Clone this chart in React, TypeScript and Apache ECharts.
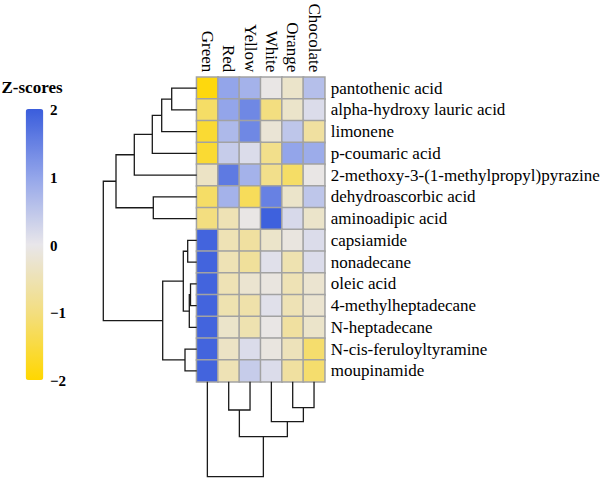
import React, { useEffect, useRef } from "react";
import * as echarts from "echarts";

const columns = ["Green", "Red", "Yellow", "White", "Orange", "Chocolate"];
const rows = [
  "pantothenic acid",
  "alpha-hydroxy lauric acid",
  "limonene",
  "p-coumaric acid",
  "2-methoxy-3-(1-methylpropyl)pyrazine",
  "dehydroascorbic acid",
  "aminoadipic acid",
  "capsiamide",
  "nonadecane",
  "oleic acid",
  "4-methylheptadecane",
  "N-heptadecane",
  "N-cis-feruloyltyramine",
  "moupinamide",
];
// z-scores, one row per compound, columns in the order above
const zScores = [
  [-1.9, 1.0, 0.8, -0.05, -0.3, 0.6],
  [-1.2, 1.0, 1.4, -1.0, -0.3, 0.15],
  [-1.6, 0.7, 1.4, -0.2, 0.5, -0.7],
  [-1.6, 0.4, 0.15, -0.9, 1.0, 0.9],
  [-0.35, 1.6, 0.8, -0.9, -1.2, -0.05],
  [-1.2, 0.8, -1.3, 1.5, -0.3, 0.5],
  [-1.0, -0.5, -0.05, 1.95, 0.2, -0.3],
  [1.9, -0.5, -0.7, -0.3, -0.1, 0.15],
  [1.9, -0.5, -0.75, 0.1, -0.55, 0.15],
  [1.9, -0.5, -0.25, -0.1, -0.5, -0.25],
  [1.9, -0.55, -0.6, 0.1, -0.5, -0.25],
  [1.9, -0.3, -0.55, -0.05, -0.7, -0.3],
  [1.9, -0.35, 0.15, -0.1, -0.45, -1.15],
  [1.9, -0.5, 0.4, 0.15, -0.7, -1.15],
];
const legendTicks = [2, 1, 0, -1, -2];
// dendrograms: [mergeHeight, left, right]; numbers are leaf indices
const rowTree: any = [
  9.34,
  [8.07, [6.24, [4.44, [3.5, [2.5, 0, 1], 2], 3], 4], [4.34, 5, 6]],
  [3.4, [1.34, [0.9, 7, 8], [0.74, [0.62, 9, 10], 11]], [1.17, 12, 13]],
];
const colTree: any = [9.5, 0, [5.5, [2.83, 1, 2], [4.0, 3, [2.6, 4, 5]]]];

function buildLinks(tree: any) {
  const segs: { pos: number; h: number }[][] = [];
  const walk = (node: any): { pos: number; h: number } => {
    if (typeof node === "number") return { pos: node, h: 0 };
    const l = walk(node[1]);
    const r = walk(node[2]);
    const h = node[0];
    segs.push([l, { pos: l.pos, h }, { pos: r.pos, h }, r]);
    return { pos: (l.pos + r.pos) / 2, h };
  };
  walk(tree);
  return segs;
}

export default function App() {
  const ref = useRef<HTMLDivElement>(null);
  useEffect(() => {
    if (!ref.current) return;
    const chart = echarts.init(ref.current, null, { renderer: "svg" });
    const font = "Liberation Serif";
    const heatData: number[][] = [];
    zScores.forEach((r, ri) => r.forEach((v, ci) => heatData.push([ci, ri, v])));
    const rowLinks = buildLinks(rowTree).map((s) => ({
      coords: s.map((p) => [p.h, p.pos]),
    }));
    const colLinks = buildLinks(colTree).map((s) => ({
      coords: s.map((p) => [p.pos, p.h]),
    }));
    const barTop = 109;
    const barH = 271;
    const gridL = 196.7;
    const gridT = 77.3;
    const gridW = 128;
    const gridH = 304.4;
    const lineStyle = { color: "#1a1a1a", width: 1.3, opacity: 1 };
    chart.setOption({
      animation: false,
      grid: [
        { left: gridL, top: gridT, width: gridW, height: gridH },
        { left: 103.3, top: gridT, width: gridL - 103.3, height: gridH },
        { left: gridL, top: gridT + gridH, width: gridW, height: 95 },
      ],
      xAxis: [
        {
          type: "category",
          gridIndex: 0,
          position: "top",
          data: columns,
          axisLine: { show: false },
          axisTick: { show: false },
          axisLabel: {
            interval: 0,
            rotate: 90,
            margin: 5,
            fontSize: 17,
            fontFamily: font,
            color: "#000",
          },
        },
        { type: "value", gridIndex: 1, min: 0, max: 9.34, inverse: true, show: false },
        { type: "value", gridIndex: 2, min: -0.5, max: 5.5, show: false },
      ],
      yAxis: [
        {
          type: "category",
          gridIndex: 0,
          position: "right",
          inverse: true,
          data: rows,
          axisLine: { show: false },
          axisTick: { show: false },
          axisLabel: {
            interval: 0,
            margin: 6,
            fontSize: 17,
            fontFamily: font,
            color: "#000",
          },
        },
        { type: "value", gridIndex: 1, min: -0.5, max: 13.5, inverse: true, show: false },
        { type: "value", gridIndex: 2, min: 0, max: 9.5, inverse: true, show: false },
      ],
      visualMap: {
        type: "continuous",
        seriesIndex: 0,
        min: -2,
        max: 2,
        left: 25.7,
        top: barTop,
        itemWidth: 17.6,
        itemHeight: barH,
        padding: 0,
        calculable: false,
        realtime: false,
        hoverLink: false,
        inRange: { color: ["#FFD700", "#F3DE80", "#E8E6EA", "#93A5EA", "#3A5DDC"] },
      },
      series: [
        {
          type: "heatmap",
          xAxisIndex: 0,
          yAxisIndex: 0,
          data: heatData,
          itemStyle: { borderColor: "#a2a2a2", borderWidth: 1.5 },
        },
        {
          type: "lines",
          coordinateSystem: "cartesian2d",
          xAxisIndex: 1,
          yAxisIndex: 1,
          polyline: true,
          clip: false,
          lineStyle,
          data: rowLinks,
        },
        {
          type: "lines",
          coordinateSystem: "cartesian2d",
          xAxisIndex: 2,
          yAxisIndex: 2,
          polyline: true,
          clip: false,
          lineStyle,
          data: colLinks,
        },
      ],
      graphic: [
        {
          type: "text",
          left: 1.5,
          top: 79,
          style: {
            text: "Z-scores",
            fontFamily: font,
            fontWeight: "bold",
            fontSize: 17,
            fill: "#000",
          },
        },
        ...legendTicks.map((t) => ({
          type: "text",
          x: 50,
          y: barTop + 1 + ((2 - t) / 4) * barH,
          style: {
            text: t < 0 ? "\u2212" + Math.abs(t) : String(t),
            fontFamily: font,
            fontWeight: "bold",
            fontSize: 15,
            fill: "#000",
            verticalAlign: "middle",
            align: "left",
          },
        })),
      ],
    });
    return () => chart.dispose();
  }, []);
  return (
    <div
      ref={ref}
      style={{ position: "absolute", left: 0, top: 0, width: 612, height: 479 }}
    />
  );
}
